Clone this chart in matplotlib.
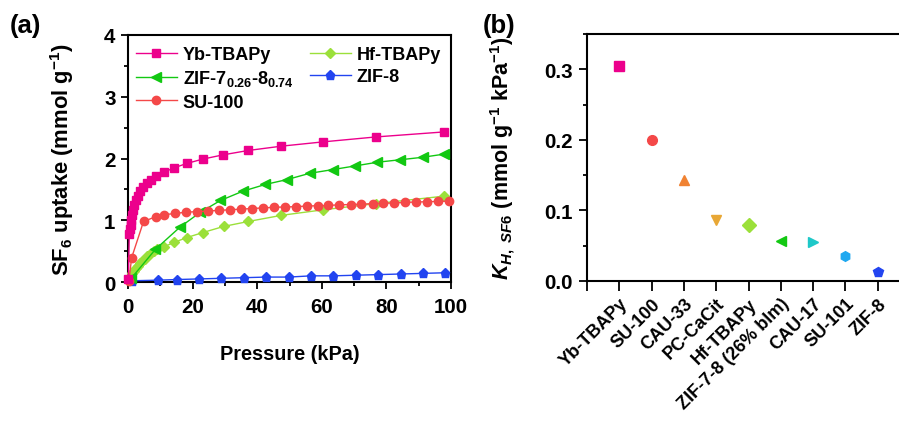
import matplotlib.pyplot as plt
from matplotlib.ticker import MultipleLocator

plt.rcParams["font.family"] = ["Liberation Sans", "DejaVu Sans"]
plt.rcParams["font.weight"] = "bold"
plt.rcParams["mathtext.fontset"] = "custom"
plt.rcParams["mathtext.rm"] = "Liberation Sans:bold"
plt.rcParams["mathtext.it"] = "Liberation Sans:bold:italic"
plt.rcParams["mathtext.bf"] = "Liberation Sans:bold"

# (a) SF6 isotherms at low pressure
yb_p = [0.1, 0.4, 0.6, 0.8, 1.0, 1.3, 1.6, 2.0, 2.5, 3.1, 3.8, 4.7, 5.8, 7.1, 8.6,
        11.2, 14.3, 18.2, 23.1, 29.5, 37.2, 47.5, 60.5, 76.9, 97.7]
yb_q = [0.05, 0.78, 0.86, 0.93, 1.00, 1.08, 1.16, 1.24, 1.32, 1.40, 1.47, 1.54, 1.60, 1.66, 1.71,
        1.78, 1.85, 1.92, 1.99, 2.06, 2.13, 2.20, 2.27, 2.35, 2.43]

hf_p = [0.3, 0.8, 1.3, 1.8, 2.4, 3.0, 3.7, 4.4, 5.2, 6.0, 6.9, 7.9, 9.0,
        11.1, 14.2, 18.2, 23.1, 29.6, 37.2, 47.5, 60.5, 76.7, 97.7]
hf_q = [0.06, 0.10, 0.14, 0.18, 0.22, 0.26, 0.30, 0.34, 0.38, 0.42, 0.46, 0.50, 0.53,
        0.57, 0.64, 0.72, 0.80, 0.90, 0.98, 1.08, 1.17, 1.27, 1.39]

zif78_p = [1.0, 8.5, 16.1, 22.4, 28.6, 35.5, 42.5, 49.3, 56.2, 63.3, 70.3, 77.2, 84.3, 91.2, 97.7]
zif78_q = [0.06, 0.53, 0.89, 1.13, 1.32, 1.47, 1.58, 1.66, 1.76, 1.82, 1.88, 1.94, 1.98, 2.02, 2.07]

zif8_p = [1.1, 9.4, 15.1, 22.0, 28.8, 35.8, 42.8, 49.8, 56.7, 63.5, 70.5, 77.4, 84.5, 91.4, 98.2]
zif8_q = [0.02, 0.03, 0.04, 0.05, 0.06, 0.07, 0.08, 0.08, 0.10, 0.10, 0.11, 0.12, 0.13, 0.14, 0.15]

su100_p = [0.3, 1.1, 4.8, 8.7, 11.2, 14.5, 17.9, 21.3, 24.7, 28.2, 31.5, 34.9, 38.3, 41.8, 45.2,
           48.6, 51.9, 55.3, 58.7, 62.0, 65.4, 68.9, 72.2, 75.7, 79.0, 82.3, 85.7, 89.1, 92.4, 95.9, 99.3]
su100_q = [0.02, 0.39, 0.98, 1.06, 1.09, 1.11, 1.13, 1.14, 1.15, 1.16, 1.17, 1.18, 1.19, 1.20, 1.21,
           1.215, 1.22, 1.23, 1.235, 1.24, 1.25, 1.255, 1.26, 1.27, 1.275, 1.28, 1.29, 1.295, 1.30, 1.305, 1.31]

# (b) Henry constants
mofs = ["Yb-TBAPy", "SU-100", "CAU-33", "PC-CaCit", "Hf-TBAPy",
        "ZIF-7-8 (26% bIm)", "CAU-17", "SU-101", "ZIF-8"]
kh = [0.305, 0.200, 0.143, 0.086, 0.080, 0.056, 0.055, 0.036, 0.013]
kh_colors = ["#ec008c", "#f44848", "#f08232", "#e8a735", "#9be03a",
             "#12c812", "#1ec8c8", "#1fa8f0", "#2244f0"]
kh_markers = ["s", "o", "^", "v", "D", "<", ">", "h", "p"]


def style_axes(ax):
    for s in ax.spines.values():
        s.set_linewidth(1.5)
    ax.tick_params(which="major", direction="out", length=5, width=1.3, labelsize=14.8, pad=4)
    ax.tick_params(which="minor", direction="out", length=3, width=1.3)


fig = plt.figure(figsize=(8.99, 4.27), dpi=100)

ax1 = fig.add_axes([0.1424, 0.3372, 0.3594, 0.5785])
series = [
    (yb_p, yb_q, "#ec008c", "s", 5.2, "Yb-TBAPy"),
    (zif78_p, zif78_q, "#12c812", "<", 6.5, "ZIF-7$_{0.26}$-8$_{0.74}$"),
    (su100_p, su100_q, "#f44848", "o", 6.0, "SU-100"),
    (hf_p, hf_q, "#9be03a", "D", 5.5, "Hf-TBAPy"),
    (zif8_p, zif8_q, "#2244f0", "p", 6.5, "ZIF-8"),
]
handles = {}
draw_order = ["ZIF-8", "Hf-TBAPy", "ZIF-7$_{0.26}$-8$_{0.74}$", "SU-100", "Yb-TBAPy"]
for p, q, c, m, ms, lab in series:
    (h,) = ax1.plot(p, q, color=c, marker=m, markersize=ms, lw=1.0,
                    markeredgecolor=c, label=lab, clip_on=False,
                    zorder=3 + draw_order.index(lab))
    handles[lab] = h
ax1.set_xlim(0, 100)
ax1.set_ylim(0, 4)
ax1.xaxis.set_major_locator(MultipleLocator(20))
ax1.xaxis.set_minor_locator(MultipleLocator(10))
ax1.yaxis.set_major_locator(MultipleLocator(1))
ax1.yaxis.set_minor_locator(MultipleLocator(0.5))
style_axes(ax1)
ax1.tick_params(axis="x", which="major", pad=6)
ax1.set_xlabel("Pressure (kPa)", fontsize=14.3, fontweight="bold")
ax1.xaxis.set_label_coords(0.5, -0.25)
ax1.set_ylabel("SF$_6$ uptake (mmol g$^{-1}$)", fontsize=15.8, fontweight="bold")
ax1.yaxis.set_label_coords(-0.16, 0.5)
ax1.legend(handles=[handles[s[5]] for s in series], ncol=2, frameon=False,
           loc="upper left", bbox_to_anchor=(-0.01, 1.0), fontsize=13,
           handlelength=2.3, handletextpad=0.3, columnspacing=0.9,
           labelspacing=0.3, borderaxespad=0.2)

ax2 = fig.add_axes([0.653, 0.3396, 0.347, 0.5784])
pos = list(range(1, len(mofs) + 1))
for x, v, c, m in zip(pos, kh, kh_colors, kh_markers):
    ax2.plot([x], [v], linestyle="none", marker=m, color=c, markersize=7,
             markeredgecolor=c, clip_on=False)
ax2.set_xlim(0, 9.66)
ax2.set_ylim(0, 0.35)
ax2.set_xticks([0] + pos)
ax2.set_xticklabels([""] + mofs, rotation=45, ha="right", rotation_mode="anchor",
                    fontweight="bold")
ax2.yaxis.set_major_locator(MultipleLocator(0.1))
ax2.yaxis.set_minor_locator(MultipleLocator(0.05))
ax2.yaxis.set_major_formatter(plt.FormatStrFormatter("%.1f"))
style_axes(ax2)
ax2.tick_params(axis="x", which="major", length=7, labelsize=13, pad=3)
ax2.tick_params(axis="y", which="major", length=6)
ax2.spines["right"].set_visible(False)
ax2.set_ylabel(r"$K_{H,\ SF6}$ (mmol g$^{-1}$ kPa$^{-1}$)", fontsize=15.5, fontweight="bold")
ax2.yaxis.set_label_coords(-0.225, 0.5)

fig.text(0.011, 0.968, "(a)", fontsize=18.5, fontweight="bold", va="top")
fig.text(0.537, 0.968, "(b)", fontsize=18.5, fontweight="bold", va="top")

fig.savefig("out.png", dpi=100)
